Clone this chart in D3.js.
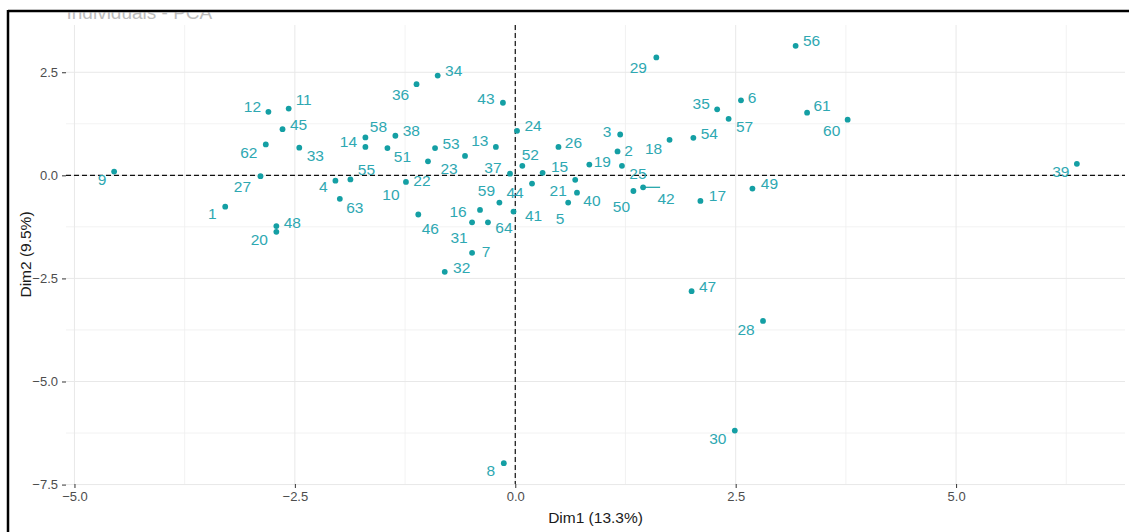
<!DOCTYPE html>
<html>
<head>
<meta charset="utf-8">
<script src="https://cdn.jsdelivr.net/npm/d3@7"></script>
<style>
  body { margin: 0; background: #fff; }
  svg { display: block; font-family: "Liberation Sans", Arial, sans-serif; }
</style>
</head>
<body>
<svg id="chart" width="1129" height="532"></svg>
<script>
// Individuals on the first two principal components
const ids = d3.range(1, 65);
const dim1 = [
  -3.29, 1.16, 1.19, -2.04, 0.60, 2.56, -0.49, -0.13, -4.55, -1.24,
  -2.57, -2.80, -0.22, -1.70, 0.31, -0.40, 2.10, 1.75, 0.84, -2.71,
  0.68, -0.99, -0.57, 0.02, 1.21, 0.49, -2.89, 2.81, 1.60, 2.49,
  -0.49, -0.80, -2.45, -0.88, 2.29, -1.12, -0.06, -1.36, 6.37, 0.70,
  -0.02, 1.45, -0.14, 0.19, -2.64, -1.10, 2.00, -2.71, 2.69, 1.34,
  -1.45, 0.08, -0.91, 2.02, -1.87, 3.18, 2.42, -1.70, -0.18, 3.77,
  3.31, -2.83, -1.99, -0.31
];
const dim2 = [
  -0.76, 0.58, 0.99, -0.13, -0.66, 1.82, -1.88, -6.98, 0.09, -0.16,
  1.62, 1.54, 0.69, 0.69, 0.06, -0.84, -0.62, 0.86, 0.26, -1.37,
  -0.11, 0.34, 0.47, 1.08, 0.23, 0.69, -0.02, -3.53, 2.86, -6.19,
  -1.14, -2.34, 0.67, 2.42, 1.60, 2.21, 0.04, 0.96, 0.28, -0.42,
  -0.88, -0.29, 1.76, -0.20, 1.12, -0.95, -2.81, -1.23, -0.32, -0.38,
  0.66, 0.23, 0.66, 0.91, -0.10, 3.14, 1.37, 0.92, -0.66, 1.35,
  1.52, 0.75, -0.57, -1.14
];
const xTicks = [-5, -2.5, 0, 2.5, 5];
const yTicks = [-7.5, -5, -2.5, 0, 2.5];
const xMinor = [-3.75, -1.25, 1.25, 3.75, 6.25];
const yMinor = [-6.25, -3.75, -1.25, 1.25];
const titleText = "Individuals - PCA";
const xTitle = "Dim1 (13.3%)";
const yTitle = "Dim2 (9.5%)";

// Repelled label placement: pixel nudge of each label from its point
const labelNudge = [
  [-13, 7], [11, -1], [-13, -3], [-12, 6], [-8, 16], [11, -3], [14, -1], [-13, 7], [-12, 8], [-15, 12],
  [15, -9], [-16, -5], [-16, -6], [-17, -5], [17, -6], [-22, 1], [17, -5], [-16, 9], [13, -3], [-17, 8],
  [-17, 11], [-6, 19], [-16, 12], [16, -5], [16, 8], [15, -4], [-18, 10], [-17, 9], [-18, 10], [-17, 8],
  [-13, 15], [17, -4], [16, 8], [16, -5], [-16, -6], [-16, 10], [-17, -6], [16, -5], [-16, 8], [15, 8],
  [20, 4], [23, 11], [-17, -4], [-17, 9], [16, -5], [12, 14], [16, -5], [16, -4], [17, -5], [-12, 15],
  [15, 8], [8, -11], [16, -5], [16, -4], [16, -10], [16, -5], [16, 8], [13, -11], [-13, -12], [-16, 11],
  [15, -7], [-17, 8], [15, 9], [16, 5]
];
const segmentIds = [42];

const W = 1129, H = 532;
const panel = { left: 66, right: 1125, top: 25, bottom: 484 };
const pointColor = "#149fa4";
const labelColor = "#2ea8b2";

const data = ids.map((id, i) => ({ id, x: dim1[i], y: dim2[i], nudge: labelNudge[i] }));

function expanded(vals) {
  const [lo, hi] = d3.extent(vals);
  const pad = (hi - lo) * 0.05;
  return [lo - pad, hi + pad];
}

const x = d3.scaleLinear().domain(expanded(dim1)).range([panel.left, panel.right]);
const y = d3.scaleLinear().domain(expanded(dim2)).range([panel.bottom, panel.top]);

const svg = d3.select("#chart");
svg.append("rect").attr("width", W).attr("height", H).attr("fill", "#fff");

// Title, partly hidden under the frame
svg.append("clipPath").attr("id", "titleClip")
  .append("rect").attr("x", 0).attr("y", 12.5).attr("width", W).attr("height", 30);
svg.append("text")
  .attr("clip-path", "url(#titleClip)")
  .attr("x", panel.left + 0.5).attr("y", 18.5)
  .attr("font-size", 19).attr("fill", "#bdbdbd")
  .text(titleText);

// Grid
const grid = svg.append("g");
grid.selectAll(".vminor").data(xMinor).join("line")
  .attr("x1", d => x(d)).attr("x2", d => x(d))
  .attr("y1", panel.top).attr("y2", panel.bottom)
  .attr("stroke", "#efefef").attr("stroke-width", 0.8);
grid.selectAll(".hminor").data(yMinor).join("line")
  .attr("y1", d => y(d)).attr("y2", d => y(d))
  .attr("x1", panel.left).attr("x2", panel.right)
  .attr("stroke", "#efefef").attr("stroke-width", 0.8);
grid.selectAll(".vmajor").data(xTicks).join("line")
  .attr("x1", d => x(d)).attr("x2", d => x(d))
  .attr("y1", panel.top).attr("y2", panel.bottom)
  .attr("stroke", "#e8e8e8").attr("stroke-width", 1);
grid.selectAll(".hmajor").data(yTicks).join("line")
  .attr("y1", d => y(d)).attr("y2", d => y(d))
  .attr("x1", panel.left).attr("x2", panel.right)
  .attr("stroke", "#e8e8e8").attr("stroke-width", 1);

// Axes
const fmt = d3.format(".1f");
const xAxis = svg.append("g")
  .attr("transform", `translate(0,${panel.bottom})`)
  .call(d3.axisBottom(x).tickValues(xTicks).tickFormat(fmt).tickSize(4).tickPadding(4));
const yAxis = svg.append("g")
  .attr("transform", `translate(${panel.left},0)`)
  .call(d3.axisLeft(y).tickValues(yTicks).tickFormat(fmt).tickSize(4).tickPadding(4));
[xAxis, yAxis].forEach(a => {
  a.select(".domain").remove();
  a.selectAll(".tick line").attr("stroke", "#333").attr("stroke-width", 1);
  a.selectAll(".tick text").attr("fill", "#4d4d4d").attr("font-size", 13)
    .attr("font-family", "Liberation Sans, Arial, sans-serif");
});

// Reference lines through the origin
svg.append("line")
  .attr("x1", x(0)).attr("x2", x(0)).attr("y1", panel.top).attr("y2", panel.bottom)
  .attr("stroke", "#111").attr("stroke-width", 1.2).attr("stroke-dasharray", "5,3");
svg.append("line")
  .attr("x1", panel.left).attr("x2", panel.right).attr("y1", y(0)).attr("y2", y(0))
  .attr("stroke", "#111").attr("stroke-width", 1.2).attr("stroke-dasharray", "5,3");

// Label leader segments
const labelPos = d => [x(d.x) + d.nudge[0], y(d.y) + d.nudge[1]];
svg.append("g").selectAll("line")
  .data(data.filter(d => segmentIds.includes(d.id)))
  .join("line")
  .attr("x1", d => x(d.x)).attr("y1", d => y(d.y))
  .attr("x2", d => labelPos(d)[0] - 6).attr("y2", d => y(d.y))
  .attr("stroke", pointColor).attr("stroke-width", 1.2);

// Points
svg.append("g").selectAll("circle").data(data).join("circle")
  .attr("cx", d => x(d.x)).attr("cy", d => y(d.y))
  .attr("r", 2.9).attr("fill", pointColor);

// Labels
svg.append("g").selectAll("text").data(data).join("text")
  .attr("x", d => labelPos(d)[0]).attr("y", d => labelPos(d)[1])
  .attr("dy", "0.36em").attr("text-anchor", "middle")
  .attr("font-size", 15.5).attr("fill", labelColor)
  .text(d => d.id);

// Axis titles
svg.append("text")
  .attr("x", (panel.left + panel.right) / 2).attr("y", 523)
  .attr("text-anchor", "middle").attr("font-size", 15.5).attr("fill", "#1a1a1a")
  .text(xTitle);
svg.append("text")
  .attr("transform", `translate(31,${(panel.top + panel.bottom) / 2}) rotate(-90)`)
  .attr("text-anchor", "middle").attr("font-size", 15.5).attr("fill", "#1a1a1a")
  .text(yTitle);

// Frame
svg.append("line").attr("x1", 8).attr("x2", W).attr("y1", 11).attr("y2", 11)
  .attr("stroke", "#000").attr("stroke-width", 2.5);
svg.append("line").attr("x1", 8).attr("x2", 8).attr("y1", 10).attr("y2", H)
  .attr("stroke", "#000").attr("stroke-width", 2.5);
</script>
</body>
</html>
